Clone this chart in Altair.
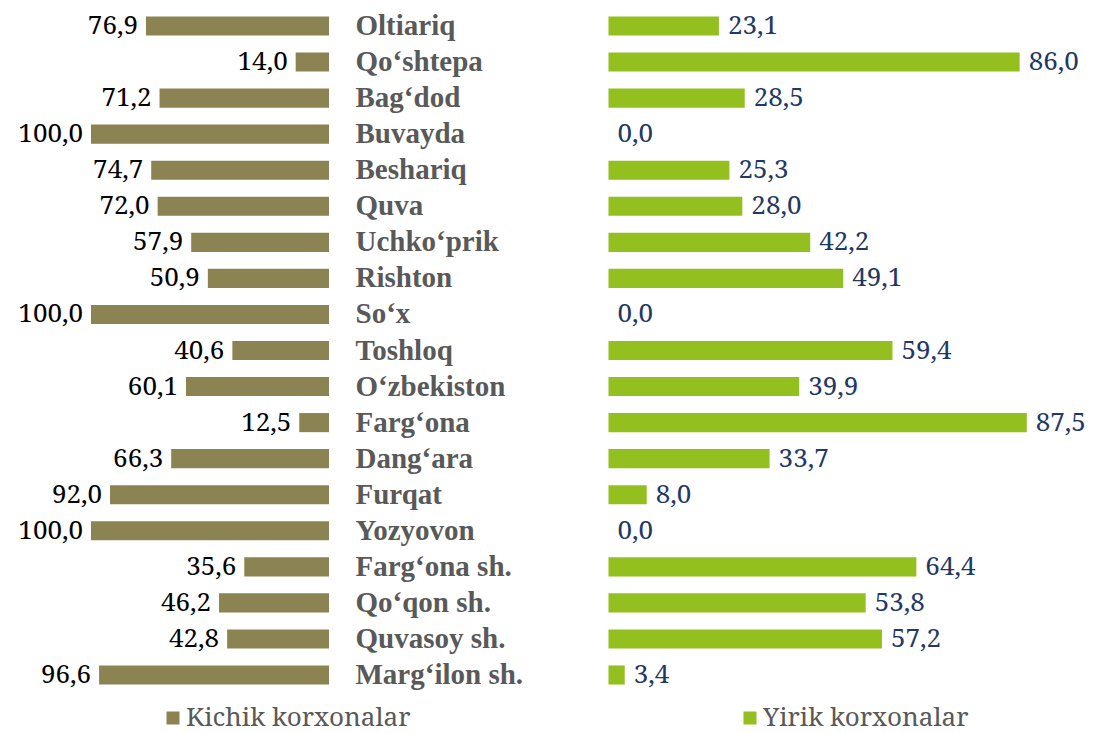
import altair as alt
import pandas as pd

categories = ["Oltiariq", "Qo‘shtepa", "Bag‘dod", "Buvayda", "Beshariq", "Quva",
              "Uchko‘prik", "Rishton", "So‘x", "Toshloq", "O‘zbekiston", "Farg‘ona",
              "Dang‘ara", "Furqat", "Yozyovon", "Farg‘ona sh.", "Qo‘qon sh.",
              "Quvasoy sh.", "Marg‘ilon sh."]
kichik = [76.9, 14.0, 71.2, 100.0, 74.7, 72.0, 57.9, 50.9, 100.0, 40.6, 60.1, 12.5,
          66.3, 92.0, 100.0, 35.6, 46.2, 42.8, 96.6]
yirik = [23.1, 86.0, 28.5, 0.0, 25.3, 28.0, 42.2, 49.1, 0.0, 59.4, 39.9, 87.5,
         33.7, 8.0, 0.0, 64.4, 53.8, 57.2, 3.4]
series = ["Kichik korxonalar", "Yirik korxonalar"]
colors = ["#8C8352", "#93C01F"]

rows = []
for c, k, y in zip(categories, kichik, yirik):
    rows.append({"category": c, "series": series[0], "value": k,
                 "label": f"{k:.1f}".replace(".", ",")})
    rows.append({"category": c, "series": series[1], "value": y,
                 "label": f"{y:.1f}".replace(".", ",")})
df = pd.DataFrame(rows)

BOLD_FONT = "Liberation Serif"
REG_FONT = "Noto Serif"
left_scale = alt.Scale(domain=[-318.9, 134.87], reverse=True, nice=False, zero=False)
right_scale = alt.Scale(domain=[-125.6, 100.3], nice=False, zero=False)

color = alt.Color(
    "series:N",
    scale=alt.Scale(domain=series, range=colors),
    legend=alt.Legend(
        orient="none", legendX=152, legendY=694, direction="horizontal", columns=2,
        title=None, symbolType="square", symbolSize=169, symbolStrokeWidth=0,
        symbolOpacity=1, labelFont=REG_FONT, labelFontSize=26, labelColor="#595959",
        labelOffset=0, columnPadding=326, padding=0, labelLimit=500,
    ),
)

left_f = alt.datum.series == series[0]
right_f = alt.datum.series == series[1]

left_bars = alt.Chart().transform_filter(left_f).mark_bar().encode(
    x=alt.X("value:Q", scale=left_scale, axis=None),
    x2=alt.datum(0),
    color=color,
)
left_text = alt.Chart().transform_filter(left_f).mark_text(
    align="right", baseline="middle", dx=-8, font=REG_FONT, fontSize=26, color="#000000",
).encode(
    x=alt.X("value:Q", scale=left_scale, axis=None),
    text="label:N",
)
right_bars = alt.Chart().transform_filter(right_f).mark_bar().encode(
    x=alt.X("value:Q", scale=right_scale, axis=None),
    x2=alt.datum(0),
    color=color,
)
right_text = alt.Chart().transform_filter(right_f).mark_text(
    align="left", baseline="middle", dx=9, font=REG_FONT, fontSize=26, color="#1F3864",
).encode(
    x=alt.X("value:Q", scale=right_scale, axis=None),
    text="label:N",
)

chart = alt.layer(left_bars, left_text, right_bars, right_text, data=df).encode(
    y=alt.Y(
        "category:N",
        sort=categories,
        scale=alt.Scale(paddingInner=0.47, paddingOuter=0.151),
        axis=alt.Axis(
            orient="left", offset=-347, title=None, ticks=False, tickSize=0,
            domain=False, grid=False, labelAlign="left", labelPadding=0,
            labelFont=BOLD_FONT, labelFontSize=29, labelFontWeight="bold",
            labelColor="#595959", labelLimit=500, labelBaseline="middle",
        ),
    )
).resolve_scale(x="independent").properties(
    width=1080, height=679,
    autosize=alt.AutoSizeParams(type="none"),
    padding={"left": 0, "right": 0, "top": 3, "bottom": 51},
).configure_view(strokeWidth=0)

chart.save("out.html", embed_options={"renderer": "svg", "actions": False})
